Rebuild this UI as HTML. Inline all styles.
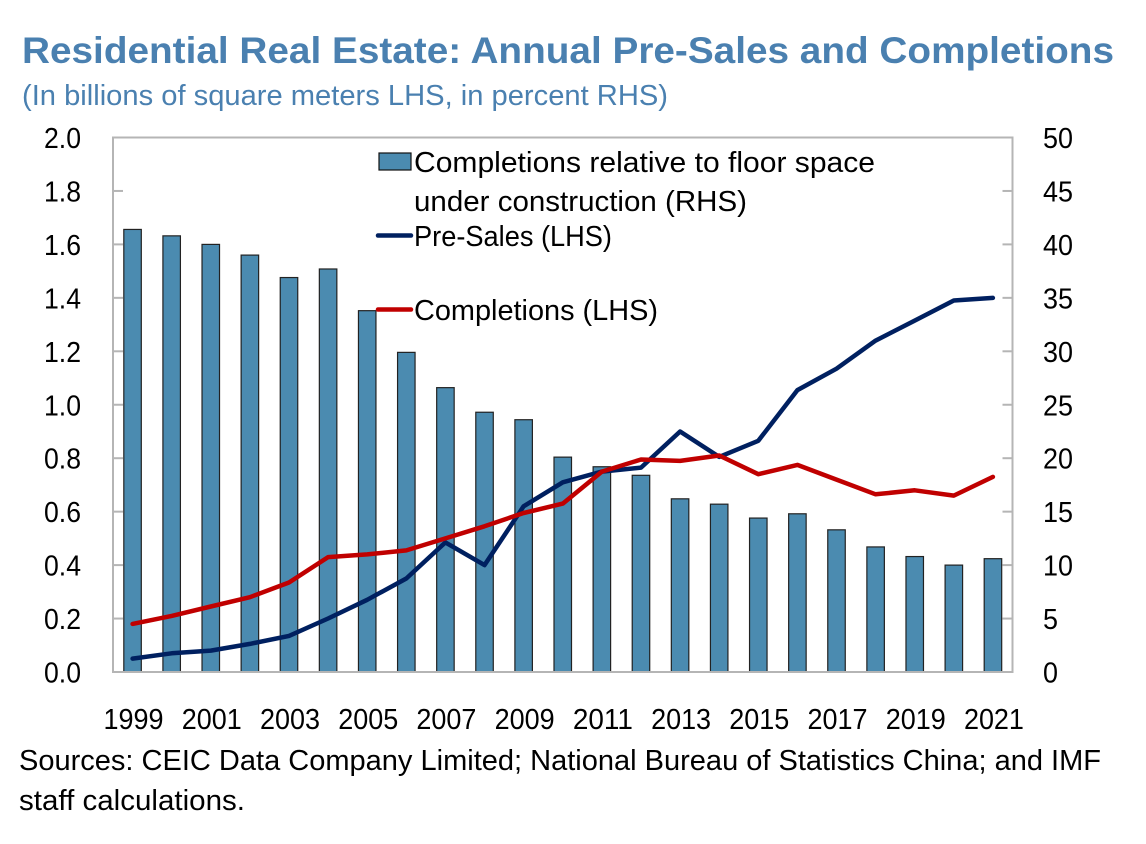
<!DOCTYPE html>
<html>
<head>
<meta charset="utf-8">
<style>
html,body{margin:0;padding:0;background:#fff;}
svg{display:block;}
text{font-family:"Liberation Sans",sans-serif;}
</style>
</head>
<body>
<svg id="chart" width="1146" height="844" viewBox="0 0 1146 844" xmlns="http://www.w3.org/2000/svg">
<text x="22" y="63" font-size="37" font-weight="bold" fill="#4a80b0" textLength="1092" lengthAdjust="spacingAndGlyphs">Residential Real Estate: Annual Pre-Sales and Completions</text>
<text x="22" y="105" font-size="29" fill="#4a80b0" textLength="646" lengthAdjust="spacingAndGlyphs">(In billions of square meters LHS, in percent RHS)</text>
<g id="plot"></g>
<g>
<rect x="379" y="153" width="32" height="17" fill="#4b8bb0" stroke="#111" stroke-width="1.2"/>
<text x="414" y="172" font-size="29" fill="#000" textLength="461" lengthAdjust="spacingAndGlyphs">Completions relative to floor space</text>
<text x="414" y="211" font-size="29" fill="#000" textLength="333" lengthAdjust="spacingAndGlyphs">under construction (RHS)</text>
<line x1="378" y1="235.500" x2="411" y2="235.500" stroke="#002060" stroke-width="4.500" stroke-linecap="round"/>
<text x="414" y="246" font-size="29" fill="#000" textLength="198" lengthAdjust="spacingAndGlyphs">Pre-Sales (LHS)</text>
<line x1="378" y1="309.500" x2="411" y2="309.500" stroke="#c00000" stroke-width="4.500" stroke-linecap="round"/>
<text x="414" y="320" font-size="29" fill="#000" textLength="244" lengthAdjust="spacingAndGlyphs">Completions (LHS)</text>
</g>
<text x="19" y="770" font-size="29" fill="#000" textLength="1082" lengthAdjust="spacingAndGlyphs">Sources: CEIC Data Company Limited; National Bureau of Statistics China; and IMF</text>
<text x="19" y="810" font-size="29" fill="#000" textLength="226" lengthAdjust="spacingAndGlyphs">staff calculations.</text>
</svg>
<script>
const years = [1999,2000,2001,2002,2003,2004,2005,2006,2007,2008,2009,2010,2011,2012,2013,2014,2015,2016,2017,2018,2019,2020,2021];
const completionsRatio = [41.4,40.8,40,39,36.9,37.7,33.8,29.9,26.6,24.3,23.6,20.1,19.2,18.4,16.2,15.7,14.4,14.8,13.3,11.7,10.8,10,10.6];
const preSales = [0.05,0.07,0.08,0.105,0.135,0.2,0.27,0.35,0.485,0.4,0.62,0.71,0.75,0.765,0.9,0.805,0.865,1.055,1.135,1.24,1.315,1.39,1.40];
const completions = [0.18,0.21,0.245,0.28,0.335,0.43,0.44,0.455,0.5,0.545,0.595,0.63,0.75,0.795,0.79,0.81,0.74,0.775,0.72,0.665,0.68,0.66,0.73];
const leftTicks = [0,0.2,0.4,0.6,0.8,1.0,1.2,1.4,1.6,1.8,2.0];
const rightTicks = [0,5,10,15,20,25,30,35,40,45,50];

const L = 113, R = 1012.5, T = 137.5, B = 672;
const NS = 'http://www.w3.org/2000/svg';
const plot = document.getElementById('plot');
const step = (R - L) / years.length;
const xAt = i => L + step * (i + 0.5);
const yLeft = v => B - (v / 2) * (B - T);
const yRight = v => B - (v / 50) * (B - T);

function mk(tag, attrs, parent) {
  const e = document.createElementNS(NS, tag);
  for (const k in attrs) e.setAttribute(k, attrs[k]);
  (parent || plot).appendChild(e);
  return e;
}

const frame = mk('rect', {x: L, y: T, width: R - L, height: B - T, fill: 'none', stroke: '#b5b5b5', 'stroke-width': 2});



leftTicks.forEach(v => {
  const y = yLeft(v);
  if (v > 0 && v < 2) {
    const t = mk('line', {x1: L, x2: L + 10, y1: y, y2: y, stroke: '#b5b5b5', 'stroke-width': 2});
    
    
  }
  const lb = mk('text', {x: 44, y: y + 10.5, 'font-size': 29, fill: '#000', textLength: 37, lengthAdjust: 'spacingAndGlyphs'});
  
  
  lb.textContent = v.toFixed(1);
});

rightTicks.forEach(v => {
  const y = yRight(v);
  if (v > 0 && v < 50) {
    const t = mk('line', {x1: R - 10, x2: R, y1: y, y2: y, stroke: '#b5b5b5', 'stroke-width': 2});
    
    
  }
  const s = String(v);
  const lb = mk('text', {x: 1043, y: y + 10.5, 'font-size': 29, fill: '#000', textLength: s.length * 15, lengthAdjust: 'spacingAndGlyphs'});
  
  
  lb.textContent = s;
});

const barW = 17.5;
completionsRatio.forEach((v, i) => {
  const b = mk('rect', {x: xAt(i) - barW / 2, y: yRight(v), width: barW, height: B - yRight(v), fill: '#4b8bb0', stroke: '#222', 'stroke-width': 1.2});
  
  
});

const axisLine = mk('line', {x1: L, x2: R, y1: B, y2: B, stroke: '#b5b5b5', 'stroke-width': 2});



const linePts = (arr) => arr.map((v, i) => xAt(i).toFixed(1) + ',' + yLeft(v).toFixed(1)).join(' ');
const preLine = mk('polyline', {points: linePts(preSales), fill: 'none', stroke: '#002060', 'stroke-width': 4.5, 'stroke-linejoin': 'round', 'stroke-linecap': 'round'});


const compLine = mk('polyline', {points: linePts(completions), fill: 'none', stroke: '#c00000', 'stroke-width': 4.5, 'stroke-linejoin': 'round', 'stroke-linecap': 'round'});



years.forEach((yr, i) => {
  if (i % 2 === 0) {
    const lb = mk('text', {x: xAt(i) + 1 - 30, y: 729, 'font-size': 29, fill: '#000', textLength: 60, lengthAdjust: 'spacingAndGlyphs'});
    
    
    lb.textContent = String(yr);
  }
});
</script>
</body>
</html>
